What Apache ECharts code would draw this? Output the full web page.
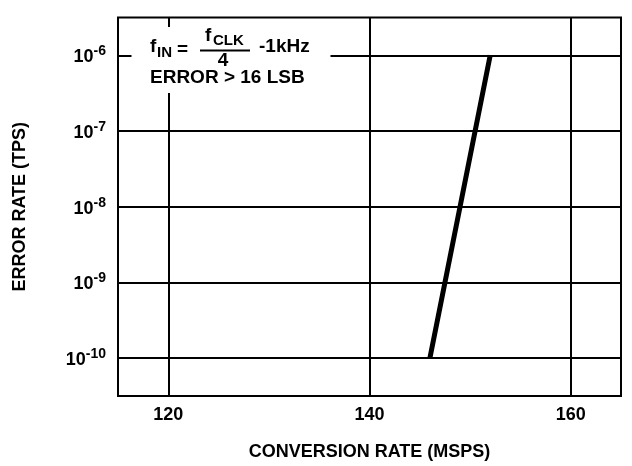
<!DOCTYPE html>
<html>
<head>
<meta charset="utf-8">
<script src="https://cdn.jsdelivr.net/npm/echarts@6/dist/echarts.min.js"></script>
<style>
html,body{margin:0;padding:0;background:#fff;}
#chart{width:632px;height:466px;}
</style>
</head>
<body>
<div id="chart"></div>
<script>
// Data
const conversionRate = [146, 147.5, 149, 150.5, 152];          // MSPS
const errorRate = [1e-10, 1e-9, 1e-8, 1e-7, 1e-6];               // TPS
const xTicks = [120, 140, 160];
const yTicks = [1e-10, 1e-9, 1e-8, 1e-7, 1e-6];
const xTitle = 'CONVERSION RATE (MSPS)';
const yTitle = 'ERROR RATE (TPS)';

const FONT = '"Liberation Sans", Arial, Helvetica, sans-serif';
const chart = echarts.init(document.getElementById('chart'));

const seriesData = conversionRate.map((x, i) => [x, errorRate[i]]);

const txt = (text, x, y, size, align) => ({
  type: 'text', z: 11,
  style: { text: text, x: x, y: y, fill: '#000', font: 'bold ' + size + 'px ' + FONT,
           align: align || 'left', verticalAlign: 'middle' }
});

chart.setOption({
  animation: false,
  backgroundColor: '#fff',
  grid: { left: 118, right: 11, top: 17.5, bottom: 69, show: true,
          borderColor: '#000', borderWidth: 2, backgroundColor: 'transparent', containLabel: false },
  xAxis: {
    type: 'value', min: 115, max: 165,
    name: xTitle, nameLocation: 'middle', nameGap: 47,
    nameTextStyle: { fontFamily: FONT, fontWeight: 'bold', fontSize: 18, color: '#000' },
    axisLine: { show: false },
    axisTick: { show: false, customValues: xTicks },
    axisLabel: { customValues: xTicks, margin: 10, fontFamily: FONT, fontWeight: 'bold', fontSize: 18, color: '#000' },
    splitLine: { show: true, lineStyle: { color: '#000', width: 2 } }
  },
  yAxis: {
    type: 'log', logBase: 10, min: Math.pow(10, -10.5), max: Math.pow(10, -5.5),
    name: yTitle, nameLocation: 'middle', nameGap: 89,
    nameTextStyle: { fontFamily: FONT, fontWeight: 'bold', fontSize: 18, color: '#000' },
    axisLine: { show: false },
    axisTick: { show: false, customValues: yTicks },
    axisLabel: {
      customValues: yTicks, margin: 12, color: '#000',
      formatter: function (v) { return '{b|10}{s|' + Math.round(Math.log10(v)) + '}'; },
      rich: {
        b: { fontFamily: FONT, fontWeight: 'bold', fontSize: 18, color: '#000', verticalAlign: 'bottom', lineHeight: 22 },
        s: { fontFamily: FONT, fontWeight: 'bold', fontSize: 14, color: '#000', verticalAlign: 'top', lineHeight: 22 }
      }
    },
    splitLine: { show: true, lineStyle: { color: '#000', width: 2 } }
  },
  series: [{
    type: 'line', data: seriesData, showSymbol: false, z: 5,
    lineStyle: { color: '#000', width: 5 }
  }],
  graphic: [
    { type: 'rect', z: 10, shape: { x: 131.5, y: 27, width: 199, height: 66 }, style: { fill: '#fff' } },
    txt('f', 150, 47, 19),
    txt('IN', 157, 53, 15),
    txt('=', 177, 50, 19),
    { type: 'line', z: 11, shape: { x1: 200, y1: 50.5, x2: 250, y2: 50.5 }, style: { stroke: '#000', lineWidth: 2 } },
    txt('f', 205, 36, 19),
    txt('CLK', 213, 41, 15),
    txt('4', 223, 61, 19, 'center'),
    txt('-1kHz', 259, 47, 19),
    txt('ERROR > 16 LSB', 150, 78, 19)
  ]
});
</script>
</body>
</html>
